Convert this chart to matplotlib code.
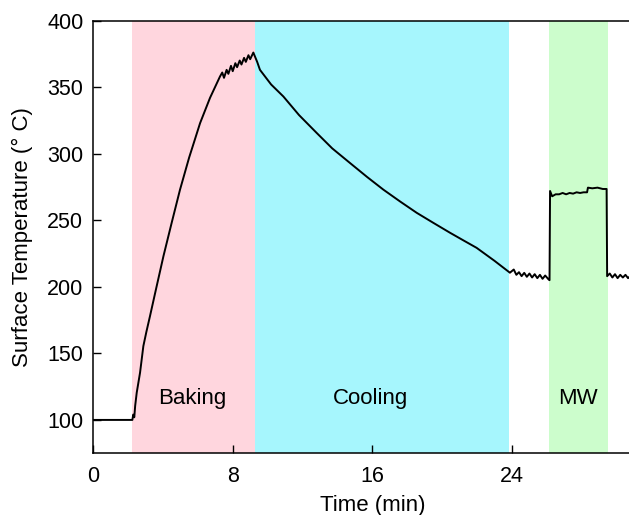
import matplotlib.pyplot as plt

plt.rcParams['font.family'] = ['Liberation Sans', 'DejaVu Sans']

# phases (min)
phase_names = ["Baking", "Cooling", "MW"]
phase_start = [2.22, 9.26, 26.12]
phase_end = [9.26, 23.83, 29.48]
phase_colors = ["#ffd6de", "#a6f6fd", "#ccfdcc"]
label_x = [5.7, 15.9, 27.8]
label_y = 116

# surface temperature trace
time_min = [
    0.0, 2.25, 2.3, 2.36, 2.41, 2.5, 2.69, 2.88, 3.05, 3.26, 3.6, 4.03, 4.5, 4.98,
    5.5, 6.13, 6.7, 7.27,
    7.4, 7.5, 7.65, 7.75, 7.9, 8.0, 8.15, 8.25, 8.4, 8.5, 8.65, 8.75, 8.9, 9.0, 9.18,
    9.4, 9.56, 10.2, 10.9, 11.8, 12.81, 13.7, 14.72, 15.7, 16.63, 17.6, 18.54,
    19.5, 20.45, 21.2, 21.97, 23.0, 23.88,
    24.1, 24.25, 24.4, 24.55, 24.7, 24.85, 25.0, 25.15, 25.3, 25.45, 25.6, 25.75, 25.9, 26.1, 26.15,
    26.18, 26.3, 26.5, 26.7, 26.9, 27.1, 27.3, 27.5, 27.7, 27.9, 28.1, 28.3,
    28.35, 28.6, 28.9, 29.2, 29.42,
    29.45, 29.6, 29.75, 29.9, 30.05, 30.2, 30.35, 30.5, 30.65, 30.8, 30.95, 31.1,
]
temp_c = [
    100, 100, 104, 102, 110.5, 120.5, 135.5, 155.5, 166, 178, 198, 223, 248, 273,
    297, 323, 342, 358,
    361, 357, 363, 360, 366, 362, 368, 365, 370, 367, 372, 369, 374, 371, 376,
    369, 363, 352, 343, 329, 315.6, 304, 293, 282.5, 273, 264, 255.6,
    248, 240.6, 235, 229.3, 219.5, 210.6,
    213, 209, 211, 208, 210.5, 207.5, 210, 207, 209.5, 206.5, 209, 206, 208.5, 205.5, 205,
    272, 268, 269.5, 269.5, 270.5, 269.5, 270.5, 270, 271, 270.5, 271, 271,
    274.5, 274, 274.5, 273.5, 273.5,
    208, 210, 207, 209.5, 206.5, 209, 207, 209, 206.5, 208.5, 206.5, 208.5,
]

fig = plt.figure(figsize=(6.29, 5.15), dpi=100)
ax = fig.add_axes([0.148, 0.12, 0.888, 0.84])

for name, x0, x1, c, lx in zip(phase_names, phase_start, phase_end, phase_colors, label_x):
    ax.axvspan(x0, x1, color=c, lw=0, zorder=0)
    ax.text(lx, label_y, name, ha="center", va="center", fontsize=16)

ax.plot(time_min, temp_c, color="black", lw=1.4, zorder=3)

# right side of the frame is cropped off in the original
ax.set_xlim(0, 32)
ax.set_ylim(75, 400)
ax.set_xticks([0, 8, 16, 24])
ax.set_yticks([100, 150, 200, 250, 300, 350, 400])
ax.tick_params(direction="in", length=6, width=1, labelsize=15.5, pad=7)
ax.tick_params(axis="x", pad=9)
for s in ax.spines.values():
    s.set_linewidth(1.1)

ax.set_xlabel("Time (min)", fontsize=16, labelpad=6)
ax.set_ylabel("Surface Temperature (° C)", fontsize=16, labelpad=10)

fig.savefig("out.png", dpi=100)
